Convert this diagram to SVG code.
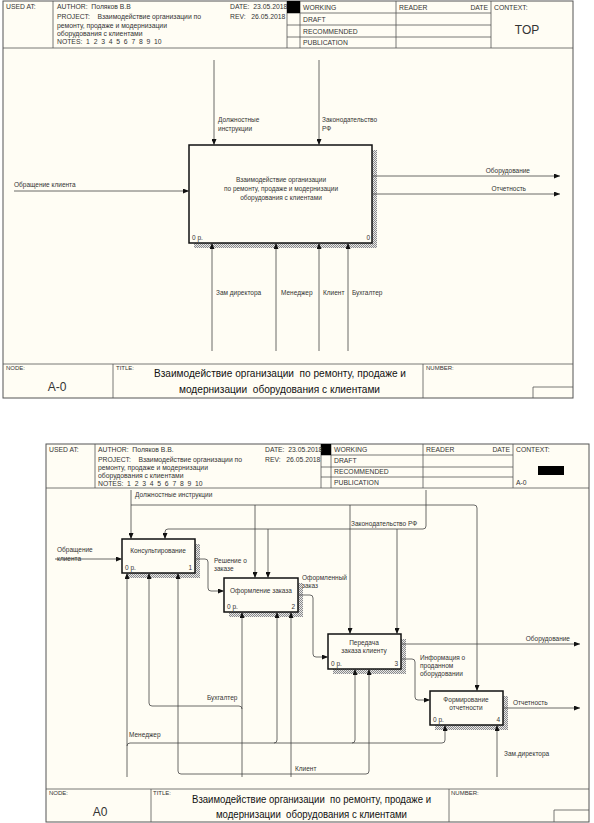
<svg xmlns="http://www.w3.org/2000/svg" width="594" height="823" viewBox="0 0 594 823" xml:space="preserve">
<defs>
<pattern id="hatch" width="2" height="2" patternUnits="userSpaceOnUse"><rect width="2" height="2" fill="#e8e8e8"/><rect width="1" height="1" fill="#8a8a8a"/><rect x="1" y="1" width="1" height="1" fill="#8a8a8a"/></pattern>
<marker id="arr" markerWidth="6" markerHeight="5" refX="6" refY="2.5" orient="auto" markerUnits="userSpaceOnUse"><path d="M0,0 L6,2.5 L0,5 Z" fill="#111"/></marker>
</defs>
<style>
.frame{fill:#fffdf4;stroke:#555;stroke-width:1}
.hl{stroke:#555;stroke-width:0.8;fill:none}
.la{stroke:#444;stroke-width:0.8;fill:none;marker-end:url(#arr)}
.box{fill:#fffdf4;stroke:#111;stroke-width:1.5}
.sh{fill:url(#hatch)}
text{font-family:"Liberation Sans",Arial,sans-serif;fill:#333;white-space:pre}
.h{font-size:6.8px}
.s{font-size:6.5px}
.c{text-anchor:middle}
.e{text-anchor:end}
.t{fill:#111}
</style>

<!-- ===== Upper diagram (A-0) ===== -->
<g id="frame-top">
<rect class="frame" x="3" y="1" width="570" height="397"/>
<path class="hl" d="M3,48 H573 M53,1 V48 M287,1 V48 M300,1 V48 M396,1 V48 M491,1 V48 M287,13 H491 M287,25 H491 M287,37 H491"/>
<rect x="287" y="1" width="13" height="12" fill="#000"/>
<text class="h" x="6" y="9">USED AT:</text>
<text class="h" x="57" y="9">AUTHOR:  Поляков В.В</text>
<text class="h" x="230" y="9">DATE:  23.05.2018</text>
<text class="h" x="57" y="19">PROJECT:    Взаимодействие организации по</text>
<text class="h" x="57" y="28">ремонту, продаже и модернизации</text>
<text class="h" x="57" y="36">оборудования с клиентами</text>
<text class="h" x="57" y="44">NOTES:  1  2  3  4  5  6  7  8  9  10</text>
<text class="h" x="230" y="19">REV:   26.05.2018</text>
<text class="h" x="303" y="10">WORKING</text>
<text class="h" x="303" y="22">DRAFT</text>
<text class="h" x="303" y="34">RECOMMENDED</text>
<text class="h" x="303" y="45">PUBLICATION</text>
<text class="h" x="399" y="10">READER</text>
<text class="h e" x="488" y="10">DATE</text>
<text class="h" x="494" y="10">CONTEXT:</text>
<text x="527" y="34" class="c" font-size="12" fill="#111">TOP</text>
<path class="hl" d="M3,364 H573 M113,364 V398 M423,364 V398 M533,387 H573 M533,387 V398"/>
<text x="6" y="370" font-size="6">NODE:</text>
<text x="57" y="391" class="c" font-size="12" fill="#111">A-0</text>
<text x="116" y="370" font-size="6">TITLE:</text>
<text class="t" x="154" y="377" font-size="10.8" textLength="252" lengthAdjust="spacingAndGlyphs">Взаимодействие организации  по ремонту, продаже и</text>
<text class="t" x="179" y="393" font-size="10.8" textLength="201" lengthAdjust="spacingAndGlyphs">модернизации  оборудования с клиентами</text>
<text x="426" y="370" font-size="6">NUMBER:</text>
</g>

<g id="node-A0">
<rect class="sh" x="194" y="150" width="183" height="98"/>
<rect class="box" x="189" y="145" width="183" height="98"/>
<text class="s c" x="281" y="182">Взаимодействие организации</text>
<text class="s c" x="281" y="191">по ремонту, продаже и модернизации</text>
<text class="s c" x="281" y="200">оборудования с клиентами</text>
<text class="s" x="192" y="240">0 р.</text>
<text class="s e" x="370" y="240">0</text>
</g>

<g id="connectors-top">
<path class="la" d="M214,60 V145"/>
<path class="la" d="M319,60 V145"/>
<path class="la" d="M14,191 H189"/>
<path class="la" d="M372,176 H560"/>
<path class="la" d="M372,194 H560"/>
<path class="la" d="M212,351 V243"/>
<path class="la" d="M276,351 V243"/>
<path class="la" d="M319,351 V243"/>
<path class="la" d="M348,351 V243"/>
<text class="s" x="218" y="122">Должностные</text>
<text class="s" x="218" y="131">инструкции</text>
<text class="s" x="322" y="122">Законодательство</text>
<text class="s" x="322" y="131">РФ</text>
<text class="s" x="14" y="187">Обращение клиента</text>
<text class="s e" x="530" y="173">Оборудование</text>
<text class="s e" x="526" y="191">Отчетность</text>
<text class="s" x="216" y="295">Зам директора</text>
<text class="s" x="281" y="295">Менеджер</text>
<text class="s" x="323" y="295">Клиент</text>
<text class="s" x="352" y="295">Бухгалтер</text>
</g>

<!-- ===== Lower diagram (A0) ===== -->
<g id="frame-bottom">
<rect class="frame" x="46" y="444" width="543" height="378"/>
<path class="hl" d="M46,488 H589 M95,444 V488 M321,444 V488 M331,444 V488 M423,444 V488 M513,444 V488 M321,455 H513 M321,467 H513 M321,477 H513"/>
<rect x="321" y="444" width="10" height="11" fill="#000"/>
<rect x="538" y="466" width="26" height="9" fill="#000"/>
<text class="h" x="49" y="452">USED AT:</text>
<text class="h" x="98" y="452">AUTHOR:  Поляков В.В.</text>
<text class="h" x="265" y="452">DATE:  23.05.2018</text>
<text class="h" x="98" y="462">PROJECT:    Взаимодействие организации по</text>
<text class="h" x="98" y="470">ремонту, продаже и модернизации</text>
<text class="h" x="98" y="478">оборудования с клиентами</text>
<text class="h" x="98" y="486">NOTES:  1  2  3  4  5  6  7  8  9  10</text>
<text class="h" x="265" y="462">REV:   26.05.2018</text>
<text class="h" x="334" y="452">WORKING</text>
<text class="h" x="334" y="463">DRAFT</text>
<text class="h" x="334" y="474">RECOMMENDED</text>
<text class="h" x="334" y="485">PUBLICATION</text>
<text class="h" x="426" y="452">READER</text>
<text class="h e" x="510" y="452">DATE</text>
<text class="h" x="516" y="452">CONTEXT:</text>
<text class="h" x="516" y="485">A-0</text>
<path class="hl" d="M46,789 H589 M151,789 V822 M449,789 V822 M554,810 H589 M554,810 V822"/>
<text x="49" y="795" font-size="6">NODE:</text>
<text x="100" y="816" class="c" font-size="12" fill="#111">A0</text>
<text x="153" y="795" font-size="6">TITLE:</text>
<text class="t" x="192" y="803" font-size="10.3" textLength="239" lengthAdjust="spacingAndGlyphs">Взаимодействие организации  по ремонту, продаже и</text>
<text class="t" x="216" y="818" font-size="10.3" textLength="191" lengthAdjust="spacingAndGlyphs">модернизации  оборудования с клиентами</text>
<text x="451" y="795" font-size="6">NUMBER:</text>
</g>

<g id="node-A1">
<rect class="sh" x="127" y="544" width="73" height="34"/>
<rect class="box" x="122" y="539" width="73" height="34"/>
<text class="s c" x="158" y="553">Консультирование</text>
<text class="s" x="125" y="570">0 р.</text>
<text class="s e" x="192" y="570">1</text>
</g>
<g id="node-A2">
<rect class="sh" x="229" y="583" width="74" height="34"/>
<rect class="box" x="224" y="578" width="74" height="34"/>
<text class="s c" x="261" y="593">Оформление заказа</text>
<text class="s" x="227" y="609">0 р.</text>
<text class="s e" x="295" y="609">2</text>
</g>
<g id="node-A3">
<rect class="sh" x="333" y="639" width="73" height="35"/>
<rect class="box" x="328" y="634" width="73" height="35"/>
<text class="s c" x="364" y="645">Передача</text>
<text class="s c" x="364" y="653">заказа клиенту</text>
<text class="s" x="331" y="666">0 р.</text>
<text class="s e" x="398" y="666">3</text>
</g>
<g id="node-A4">
<rect class="sh" x="435" y="696" width="73" height="34"/>
<rect class="box" x="430" y="691" width="73" height="34"/>
<text class="s c" x="466" y="702">Формирование</text>
<text class="s c" x="466" y="710">отчетности</text>
<text class="s" x="433" y="722">0 р.</text>
<text class="s e" x="500" y="722">4</text>
</g>

<g id="connectors-bottom">
<path class="la" d="M131,490 V539"/>
<path class="la" d="M131,505 H474 Q477,505 477,508 V691"/>
<path class="la" d="M255,505 V578"/>
<path class="la" d="M350,505 V634"/>
<path class="la" d="M426,490 V526 Q426,529 423,529 H168 Q165,529 165,532 V539"/>
<path class="la" d="M268,529 V578"/>
<path class="la" d="M397,529 V634"/>
<path class="la" d="M55,559 H122"/>
<path class="la" d="M195,559 H205 Q208,559 208,562 V588 Q208,591 211,591 H224"/>
<path class="la" d="M298,595 H310 Q313,595 313,598 V654 Q313,657 316,657 H328"/>
<path class="la" d="M401,644 H580"/>
<path class="la" d="M401,659 H412 Q415,659 415,662 V697 Q415,700 418,700 H430"/>
<path class="la" d="M503,708 H580"/>
<path class="la" d="M127,777 V573"/>
<path class="la" d="M127,746 Q127,743 130,743 H442 Q445,743 445,740 V725"/>
<path class="la" d="M274,743 Q277,743 277,740 V612"/>
<path class="la" d="M352,743 Q355,743 355,740 V669"/>
<path class="la" d="M242,777 V612"/>
<path class="la" d="M242,709 Q242,706 239,706 H152 Q149,706 149,703 V573"/>
<path class="la" d="M291,777 V612"/>
<path class="la" d="M291,774 H181 Q178,774 178,771 V573"/>
<path class="la" d="M291,774 H366 Q369,774 369,771 V669"/>
<path class="la" d="M497,777 V725"/>
<text class="s" x="135" y="497">Должностные инструкции</text>
<text class="s" x="351" y="526">Законодательство РФ</text>
<text class="s" x="57" y="552">Обращение</text>
<text class="s" x="57" y="561">клиента</text>
<text class="s" x="214" y="563">Решение о</text>
<text class="s" x="214" y="571">заказе</text>
<text class="s" x="302" y="580">Оформленный</text>
<text class="s" x="302" y="588">заказ</text>
<text class="s e" x="570" y="641">Оборудование</text>
<text class="s" x="420" y="660">Информация о</text>
<text class="s" x="420" y="668">проданном</text>
<text class="s" x="420" y="676">оборудовании</text>
<text class="s" x="513" y="705">Отчетность</text>
<text class="s" x="207" y="700">Бухгалтер</text>
<text class="s" x="129" y="737">Менеджер</text>
<text class="s" x="295" y="771">Клиент</text>
<text class="s" x="504" y="756">Зам.директора</text>
</g>
</svg>
